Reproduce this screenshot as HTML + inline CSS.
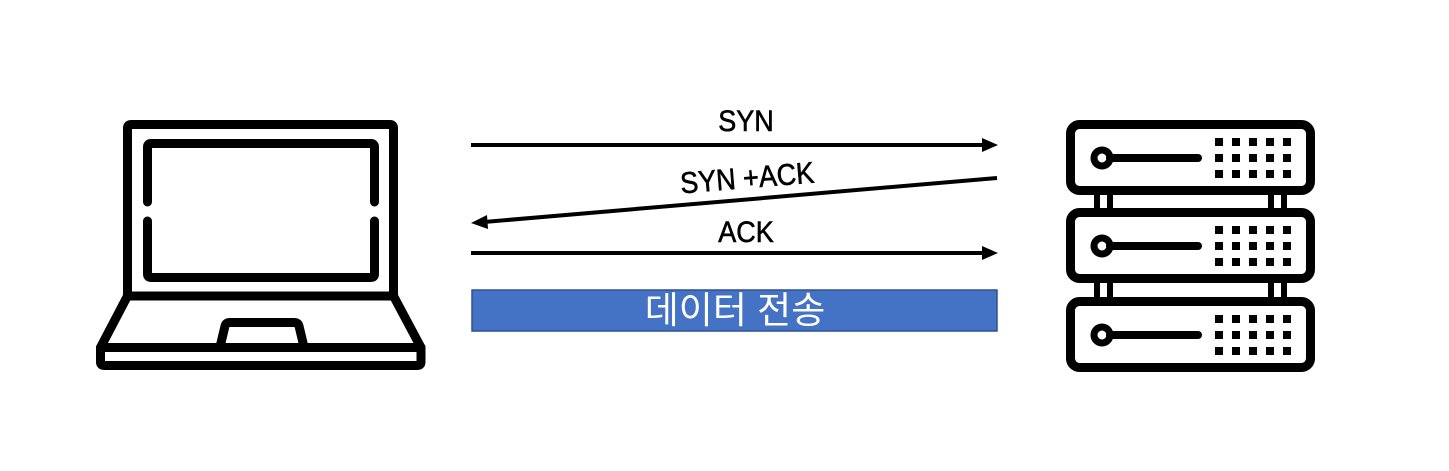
<!DOCTYPE html>
<html><head><meta charset="utf-8"><style>
html,body{margin:0;padding:0;background:#fff;width:1449px;height:471px;overflow:hidden}
</style></head><body>
<svg width="1449" height="471" viewBox="0 0 1449 471" xmlns="http://www.w3.org/2000/svg">
<g fill="none" stroke="#000" stroke-width="9" stroke-linejoin="round" stroke-linecap="round">
<path d="M127.5 296 V128 Q127.5 124.5 131 124.5 H390 Q393.5 124.5 393.5 128 V296"/>
<path d="M147.5 202 V147 Q147.5 143.5 151 143.5 H371 Q374.5 143.5 374.5 147 V202"/>
<path d="M147.5 221 V274 Q147.5 277.5 151 277.5 H371 Q374.5 277.5 374.5 274 V221"/>
<path d="M127.5 296 H393.5 L421 347.5 V362 Q421 365.5 417.5 365.5 H104 Q100.5 365.5 100.5 362 V347.5 Z"/>
<path d="M100.5 347.5 H421"/>
<path d="M220 347 L225 326 Q226 322.5 230 322.5 H294 Q298 322.5 299 326 L304 347"/>
</g>
<g fill="none" stroke="#000" stroke-width="9">
<rect x="1070.5" y="124.5" width="240" height="66" rx="9"/>
<rect x="1070.5" y="212.5" width="240" height="66" rx="9"/>
<rect x="1070.5" y="301.5" width="240" height="66" rx="9"/>
</g>
<g fill="#000">
<rect x="1094" y="195" width="6" height="13"/><rect x="1107" y="195" width="6" height="13"/>
<rect x="1268" y="195" width="6" height="13"/><rect x="1281" y="195" width="6" height="13"/>
<rect x="1094" y="283" width="6" height="14"/><rect x="1107" y="283" width="6" height="14"/>
<rect x="1268" y="283" width="6" height="14"/><rect x="1281" y="283" width="6" height="14"/>
</g>
<g id="row">
<circle cx="1102" cy="158" r="8" fill="none" stroke="#000" stroke-width="7"/>
<line x1="1110" y1="158" x2="1198" y2="158" stroke="#000" stroke-width="8" stroke-linecap="round"/>
<g fill="#000">
<rect x="1215" y="138" width="8" height="8"/><rect x="1232" y="138" width="8" height="8"/><rect x="1249" y="138" width="8" height="8"/><rect x="1266" y="138" width="8" height="8"/><rect x="1283" y="138" width="8" height="8"/>
<rect x="1215" y="154" width="8" height="8"/><rect x="1232" y="154" width="8" height="8"/><rect x="1249" y="154" width="8" height="8"/><rect x="1266" y="154" width="8" height="8"/><rect x="1283" y="154" width="8" height="8"/>
<rect x="1215" y="170" width="8" height="8"/><rect x="1232" y="170" width="8" height="8"/><rect x="1249" y="170" width="8" height="8"/><rect x="1266" y="170" width="8" height="8"/><rect x="1283" y="170" width="8" height="8"/>
</g>
</g>
<use href="#row" transform="translate(0,88)"/>
<use href="#row" transform="translate(0,177)"/>
<g stroke="#000" stroke-width="4">
<line x1="471" y1="145" x2="985" y2="145"/>
<line x1="997" y1="178" x2="484" y2="222"/>
<line x1="471" y1="253" x2="985" y2="253"/>
</g>
<polygon points="998,145 982,138 982,152" fill="#000"/>
<polygon points="998,253 982,246 982,260" fill="#000"/>
<polygon points="471,223 487,215 488,229" fill="#000"/>
<g font-family="'Liberation Sans',sans-serif" font-size="30" fill="#000" stroke="#000" stroke-width="0.6" text-anchor="middle">
<text x="746" y="131" transform="translate(746 0) scale(0.9 1) translate(-746 0)">SYN</text>
<text x="746" y="242" transform="translate(746 0) scale(0.9 1) translate(-746 0)">ACK</text>
<text x="0" y="0" transform="translate(748 188) rotate(-4.7) scale(0.9 1)">SYN +ACK</text>
</g>
<rect x="472" y="290" width="525" height="41" fill="#4472C4" stroke="#2F528F" stroke-width="1.5"/>
<text x="735" y="323" font-family="'Liberation Sans','Noto Sans CJK KR',sans-serif" font-size="37" fill="#fff" text-anchor="middle">데이터 전송</text>
</svg>
</body></html>
